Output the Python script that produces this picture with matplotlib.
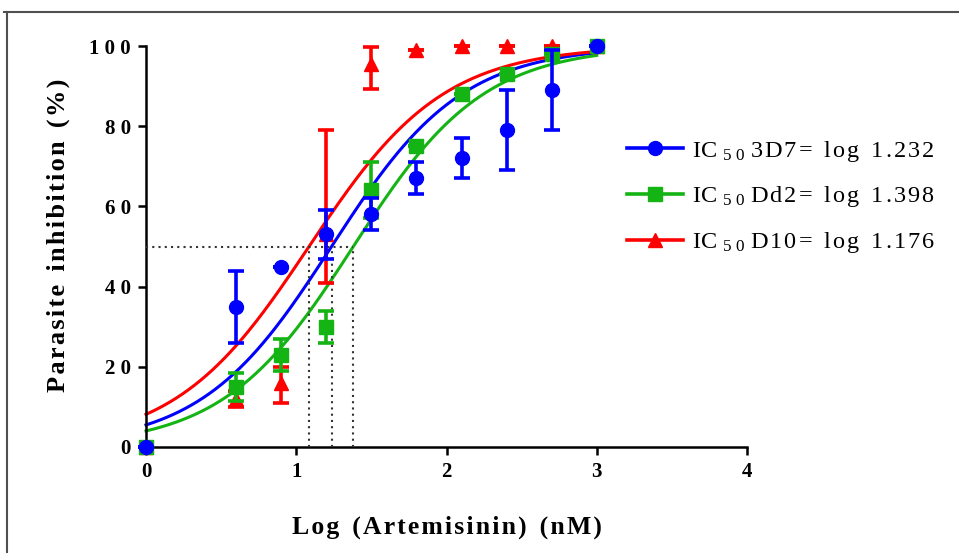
import numpy as np
import matplotlib
matplotlib.use('Agg')
import matplotlib.pyplot as plt
from matplotlib.lines import Line2D

# ---- data ----
log_conc = [0, 0.6, 0.9, 1.2, 1.5, 1.8, 2.1, 2.4, 2.7, 3.0]

inh_3d7 = [0, 35, 45, 53, 58, 67, 72, 79, 89, 100]
lo_3d7 = [0, 9, 0, 6, 4, 4, 5, 10, 10, 0]
hi_3d7 = [0, 9, 0, 6, 4, 4, 5, 10, 10, 0]

inh_dd2 = [0, 15, 23, 30, 64, 75, 88, 93, 98, 100]
lo_dd2 = [0, 3.5, 4, 4, 7, 0, 0, 0, 0, 0]
hi_dd2 = [0, 3.5, 4, 4, 7, 0, 0, 0, 0, 0]

inh_d10 = [0, 12, 16, 53, 95.5, 99, 100, 100, 100, 100]
lo_d10 = [0, 2, 5, 12, 6.3, 0, 0, 0, 0, 0]
hi_d10 = [0, 2, 4, 26, 4.3, 0, 0, 0, 0, 0]

# fitted sigmoid parameters (as drawn)
fit_logic50 = [1.235, 1.38, 1.085]
fit_hill = [1.0, 1.0, 0.97]
fit_bottom = 0.0
fit_top = 100.0

legend_ic50 = ["1.232", "1.398", "1.176"]
strains = ["3D7", "Dd2", "D10"]
colors = ["#0000FF", "#14B414", "#FF0000"]
markers = ["o", "s", "^"]

xticks = [0, 1, 2, 3, 4]
yticks = [0, 20, 40, 60, 80, 100]

HS = "\u200a"


def track(s):
    """insert hair spaces between letters (letter-spaced look)"""
    return " ".join(HS.join(w) for w in s.split(" "))


# ---- figure ----
plt.rcParams['mathtext.fontset'] = 'custom'
plt.rcParams['mathtext.rm'] = 'Liberation Serif'
plt.rcParams['mathtext.it'] = 'Liberation Serif:italic'
plt.rcParams['mathtext.bf'] = 'Liberation Serif:bold'
SERIF = ['Liberation Serif', 'DejaVu Serif']

fig = plt.figure(figsize=(9.59, 5.53), dpi=100)
ax = fig.add_axes([146/959, 1-447/553, (747-146)/959, (447-46)/553])

# page frame (top and left edges)
fig.add_artist(Line2D([4/959, 1], [1-12/553, 1-12/553], transform=fig.transFigure,
                      color='#505050', lw=1.5))
fig.add_artist(Line2D([7/959, 7/959], [0, 1-12/553], transform=fig.transFigure,
                      color='#505050', lw=1.5))

# fitted curves
xs = np.linspace(0, 3, 300)
for c50, h, col in zip(fit_logic50, fit_hill, colors):
    ys = fit_bottom + (fit_top - fit_bottom) / (1 + 10 ** ((c50 - xs) * h))
    ax.plot(xs, ys, color=col, lw=2.2, zorder=2, clip_on=False)

# dotted IC50 guides
ax.plot([0, max(fit_logic50)], [50, 50], color='#333333', lw=1.5,
        linestyle=(0, (1, 2)), zorder=3)
for c50 in fit_logic50:
    ax.plot([c50, c50], [0, 50], color='#333333', lw=1.5,
            linestyle=(0, (1, 2)), zorder=3)

# data with error bars (draw order: D10, Dd2, 3D7 on top)
series = [
    (inh_d10, lo_d10, hi_d10, 2),
    (inh_dd2, lo_dd2, hi_dd2, 1),
    (inh_3d7, lo_3d7, hi_3d7, 0),
]
z = 4
for vals, lo, hi, i in series:
    eb = ax.errorbar(log_conc, vals, yerr=[lo, hi], fmt=markers[i], color=colors[i],
                     ms=10, elinewidth=2.6, capsize=5.5, capthick=2.6,
                     zorder=z)
    eb.lines[0].set_clip_on(False)
    for art in tuple(eb.lines[1]) + tuple(eb.lines[2]):
        art.set_clip_on(False)
    z += 1

ax.set_xlim(0, 4)
ax.set_ylim(0, 100)
ax.set_xticks(xticks)
ax.set_yticks(yticks)
ax.set_xticklabels([str(t) for t in xticks])
ax.set_yticklabels([" ".join(str(t)) for t in yticks])
for lab in ax.get_xticklabels() + ax.get_yticklabels():
    lab.set_fontfamily(SERIF)
    lab.set_fontweight('bold')
    lab.set_fontsize(15)

for s in ['top', 'right']:
    ax.spines[s].set_visible(False)
for s in ['left', 'bottom']:
    ax.spines[s].set_linewidth(1.8)
ax.tick_params(direction='out', length=6, width=1.8, pad=5)

ax.set_xlabel(track("Log  (Artemisinin)  (nM)"), fontfamily=SERIF,
              fontweight='bold', fontsize=18.5, labelpad=24)
ax.set_ylabel(track("Parasite  inhibition  (%)"), fontfamily=SERIF,
              fontweight='bold', fontsize=19)
ax.yaxis.set_label_coords(-0.1265, 0.529)

# legend
handles = [Line2D([0], [0], color=colors[i], marker=markers[i], ms=10, lw=2.6)
           for i in range(3)]
labels = [f"IC $_{{5\\ 0}}$ " + track(f"{s}= log {v}").replace(" ", "  ")
          for s, v in zip(strains, legend_ic50)]
ax.legend(handles, labels, loc='upper left', bbox_to_anchor=(617/959, 1-129/553),
          bbox_transform=fig.transFigure, frameon=False,
          prop={'family': SERIF, 'size': 17.5},
          handlelength=2.3, handletextpad=0.4, labelspacing=0.85, borderaxespad=0)

fig.savefig("out.png", dpi=100)
